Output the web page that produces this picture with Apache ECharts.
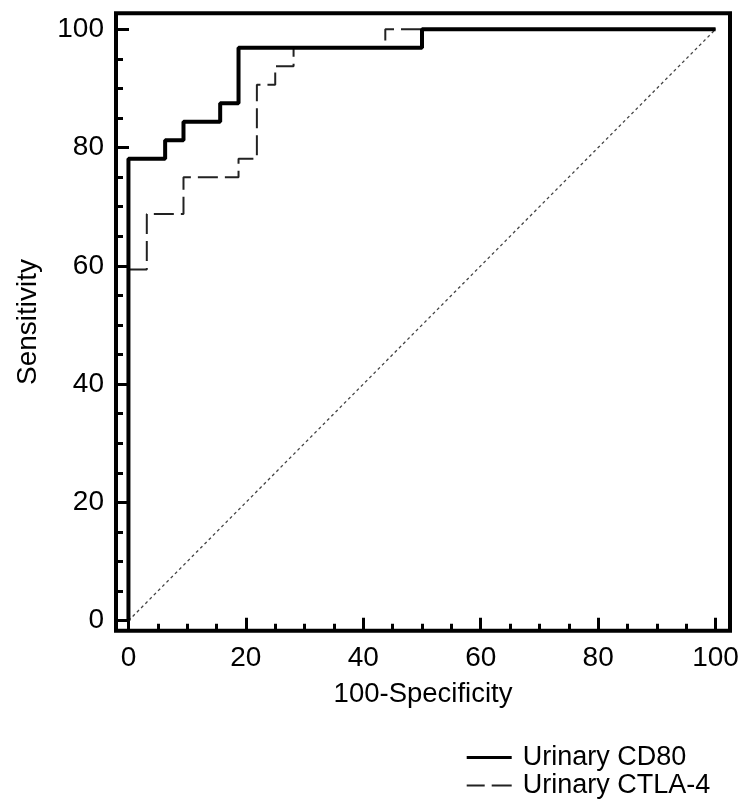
<!DOCTYPE html>
<html>
<head>
<meta charset="utf-8">
<script src="https://cdn.jsdelivr.net/npm/echarts@6/dist/echarts.min.js"></script>
<style>
html,body{margin:0;padding:0;background:#fff;}
#chart{width:744px;height:803px;}
</style>
</head>
<body>
<div id="chart"></div>
<script>
// ROC operating points (100-Specificity, Sensitivity)
var cd80Fpr  = [0, 0, 6.25, 9.375, 15.625, 18.75, 50, 100];
var cd80Tpr  = [0, 78.125, 81.25, 84.375, 87.5, 96.875, 100, 100];
var ctla4Fpr = [0, 0, 3.125, 9.375, 18.75, 21.875, 25, 28.125, 43.75, 100];
var ctla4Tpr = [0, 59.375, 68.75, 75, 78.125, 90.625, 93.75, 96.875, 100, 100];
var refFpr = [0, 100];
var refTpr = [0, 100];
var majorTicks = [0, 20, 40, 60, 80, 100];
var minorTicks = [5, 10, 15, 25, 30, 35, 45, 50, 55, 65, 70, 75, 85, 90, 95];
var seriesNames = ['Urinary CD80', 'Urinary CTLA-4'];
var xTitle = '100-Specificity';
var yTitle = 'Sensitivity';

function pairs(xs, ys){ return xs.map(function(x,i){ return [x, ys[i]]; }); }

var FONT = "'Liberation Sans', Arial, sans-serif";
var X_RANGE = {min: -2.12, max: 102.46};
var Y_RANGE = {min: -1.69, max: 102.7};
var GRID_RECT = {left: 116, right: 14, top: 13.3, bottom: 172.3};

function axisBase(range, ticks, len, withLabels){
  return {
    type: 'value', min: range.min, max: range.max,
    axisLine: {show: false, onZero: false},
    splitLine: {show: false},
    axisTick: {show: true, inside: true, length: len, customValues: ticks,
               lineStyle: {color: '#000', width: 3}},
    axisLabel: withLabels
      ? {show: true, customValues: ticks, color: '#000', fontSize: 28, fontFamily: FONT}
      : {show: false}
  };
}

var x0 = Object.assign(axisBase(X_RANGE, majorTicks, 13, true), {gridIndex: 0,
  name: xTitle, nameLocation: 'middle', nameGap: 50,
  nameTextStyle: {color: '#000', fontSize: 27.5, fontFamily: FONT}});
x0.axisLabel.margin = 14;
var y0 = Object.assign(axisBase(Y_RANGE, majorTicks, 13, true), {gridIndex: 0,
  name: yTitle, nameLocation: 'middle', nameGap: 74,
  nameTextStyle: {color: '#000', fontSize: 28, fontFamily: FONT}});
y0.axisLabel.margin = 12;
var x1 = Object.assign(axisBase(X_RANGE, minorTicks, 7, false), {gridIndex: 1});
var y1 = Object.assign(axisBase(Y_RANGE, minorTicks, 7, false), {gridIndex: 1});

var chart = echarts.init(document.getElementById('chart'), null, {renderer:'canvas'});
chart.setOption({
  animation: false,
  backgroundColor: '#fff',
  grid: [
    Object.assign({show: true, borderColor: '#000', borderWidth: 4, backgroundColor: 'transparent'}, GRID_RECT),
    Object.assign({show: false}, GRID_RECT)
  ],
  xAxis: [x0, x1],
  yAxis: [y0, y1],
  legend: {
    data: [
      {name: seriesNames[0], icon: 'rect'},
      {name: seriesNames[1], icon: 'path://M0,0h18v2h-18zM25,0h20v2h-20z'}
    ],
    orient: 'vertical',
    left: 466.7, top: 744, padding: 0,
    itemWidth: 45, itemHeight: 3, itemGap: 1,
    textStyle: {color: '#000', fontSize: 27, fontFamily: FONT, lineHeight: 27, padding: [0,0,0,6]},
    selectedMode: false
  },
  series: [
    {name: 'diag', type: 'line', xAxisIndex: 0, yAxisIndex: 0, data: pairs(refFpr, refTpr),
     symbol: 'none', silent: true, lineStyle: {color: '#444', width: 1.3, type: [3, 3]}},
    {name: seriesNames[1], type: 'line', xAxisIndex: 0, yAxisIndex: 0, data: pairs(ctla4Fpr, ctla4Tpr),
     step: 'end', symbol: 'none', color: '#222', lineStyle: {color: '#222', width: 2, type: [20, 7]}},
    {name: seriesNames[0], type: 'line', xAxisIndex: 0, yAxisIndex: 0, data: pairs(cd80Fpr, cd80Tpr),
     step: 'end', symbol: 'none', color: '#000', lineStyle: {color: '#000', width: 4}, z: 3}
  ]
});
</script>
</body>
</html>
